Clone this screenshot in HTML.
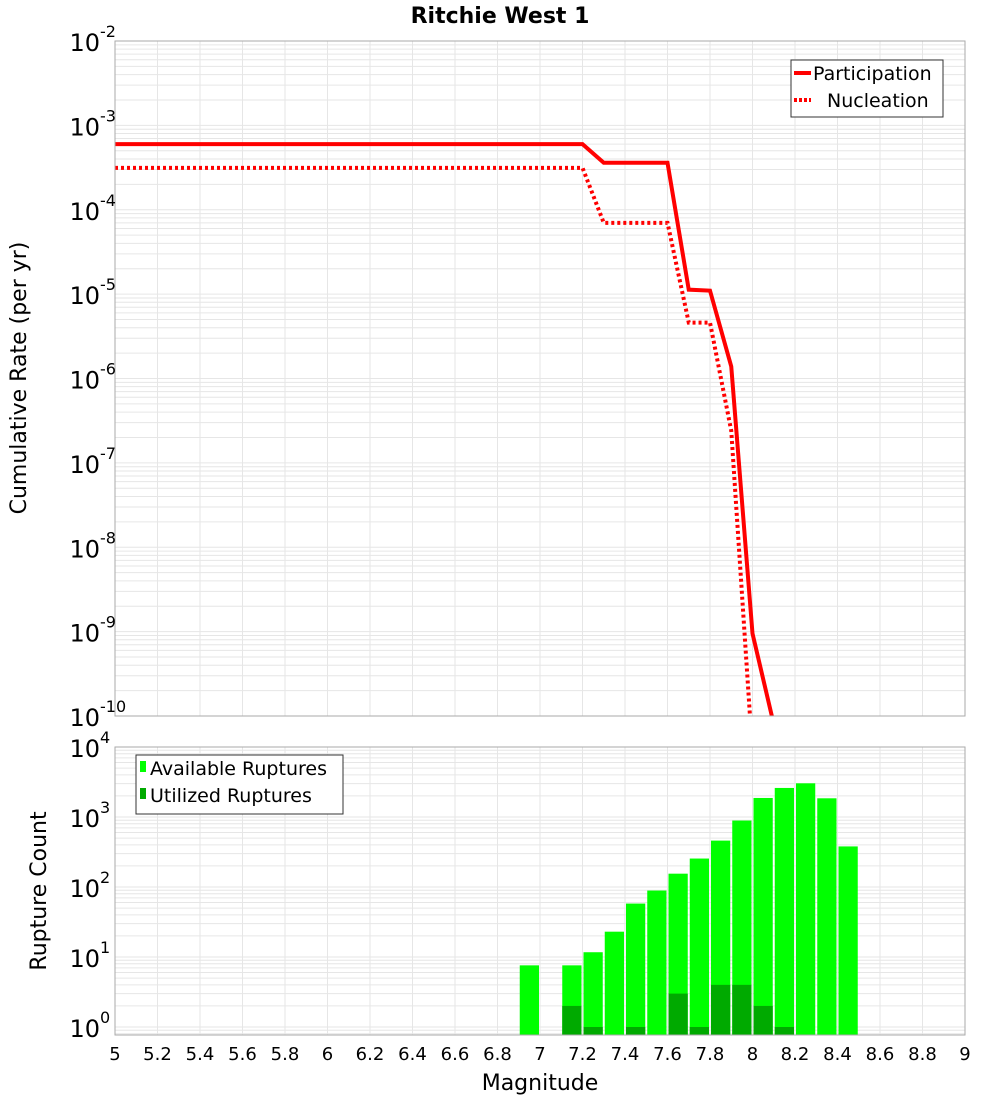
<!DOCTYPE html>
<html><head><meta charset="utf-8"><style>
html,body{margin:0;padding:0;background:#fff;}
svg{display:block;font-family:"DejaVu Sans","Liberation Sans",sans-serif;}
</style></head><body>
<svg id="chart" width="1000" height="1100" viewBox="0 0 1000 1100" xmlns="http://www.w3.org/2000/svg">
<text x="500" y="23" text-anchor="middle" font-size="22" font-weight="bold">Ritchie West 1</text>
<g id="topG"></g>
<g id="botG"></g>
<text transform="translate(26,378) rotate(-90)" text-anchor="middle" font-size="22">Cumulative Rate (per yr)</text>
<text transform="translate(46,891) rotate(-90)" text-anchor="middle" font-size="22">Rupture Count</text>
<text x="540" y="1090" text-anchor="middle" font-size="22">Magnitude</text>
</svg>
<script>
// ---- data ----
const partMag = [5.0, 7.2, 7.3, 7.6, 7.7, 7.8, 7.9, 8.0, 8.1];
const partRate = [6.0e-4, 6.0e-4, 3.6e-4, 3.6e-4, 1.13e-5, 1.1e-5, 1.39e-6, 9.5e-10, 8e-11];
const nuclMag = [5.0, 7.2, 7.3, 7.6, 7.7, 7.8, 7.9, 8.0];
const nuclRate = [3.14e-4, 3.14e-4, 7.0e-5, 7.0e-5, 4.6e-6, 4.6e-6, 2.4e-7, 3.5e-11];
const binMag = [6.95, 7.15, 7.25, 7.35, 7.45, 7.55, 7.65, 7.75, 7.85, 7.95, 8.05, 8.15, 8.25, 8.35, 8.45];
const availCount = [7.6, 7.6, 11.7, 23, 58, 89, 155, 255, 460, 890, 1870, 2600, 3030, 1850, 380];
const usedCount = [0, 2, 1, 0, 1, 0, 3, 1, 4, 4, 2, 1, 0, 0, 0];
const xTicks = ["5","5.2","5.4","5.6","5.8","6","6.2","6.4","6.6","6.8","7","7.2","7.4","7.6","7.8","8","8.2","8.4","8.6","8.8","9"];
const topExps = [-2,-3,-4,-5,-6,-7,-8,-9,-10];
const botExps = [4,3,2,1,0];

const NS = "http://www.w3.org/2000/svg";
const L = 115, R = 965;
const xS = m => L + (m - 5) / 4 * (R - L);
const T1 = 41, B1 = 716;
const yTop = v => T1 + (-2 - Math.log10(v)) / 8 * (B1 - T1);
const T2 = 747, B2 = 1035, Y0 = 1027;
const yBot = v => Y0 - Math.log10(v) * (Y0 - T2) / 4;

function mk(parent, tag, attrs) {
  const e = document.createElementNS(NS, tag);
  for (const k in attrs) e.setAttribute(k, attrs[k]);
  parent.appendChild(e);
  return e;
}
const topG = document.getElementById('topG'), botG = document.getElementById('botG');

function grid(g, t, b, yf, loE, hiE) {
  for (let e = loE; e < hiE; e++) for (let k = 1; k < 10; k++) {
    const y = yf(k * Math.pow(10, e));
    if (y < t || y > b) continue;
    const ln = mk(g, 'line', {x1: L, x2: R, y1: y, y2: y, stroke: '#e6e6e6', 'stroke-width': 1});
    
    
  }
  for (let i = 0; i < xTicks.length; i++) {
    const x = xS(parseFloat(xTicks[i]));
    const ln = mk(g, 'line', {x1: x, x2: x, y1: t, y2: b, stroke: '#e6e6e6', 'stroke-width': 1});
    
    
  }
}
grid(topG, T1, B1, yTop, -11, -2);
grid(botG, T2, B2, yBot, -1, 4);

const clip = mk(document.getElementById('chart'), 'clipPath', {id: 'c1'});
mk(clip, 'rect', {x: L, y: T1, width: R - L, height: B1 - T1});
function line(mags, rates, dash, name) {
  const p = mags.map((m, i) => xS(m) + ',' + yTop(rates[i])).join(' ');
  const pl = mk(topG, 'polyline', {points: p, fill: 'none', stroke: '#ff0000', 'stroke-width': 4, 'clip-path': 'url(#c1)'});
  if (dash) pl.setAttribute('stroke-dasharray', '3,3');
  
  
}
line(nuclMag, nuclRate, true, 'nucleation-line');
line(partMag, partRate, false, 'participation-line');

const bw = xS(5.1) - xS(5) - 2;
for (let i = 0; i < binMag.length; i++) {
  const x = xS(binMag[i]) - bw / 2;
  if (availCount[i] > 0) {
    const y = yBot(availCount[i]);
    const r = mk(botG, 'rect', {x: x, y: y, width: bw, height: B2 - y, fill: '#00ff00'});
    
    
  }
  if (usedCount[i] > 0) {
    const y = yBot(usedCount[i]);
    const r = mk(botG, 'rect', {x: x, y: y, width: bw, height: B2 - y, fill: '#00aa00'});
    
    
  }
}

const f1 = mk(topG, 'rect', {x: L, y: T1, width: R - L, height: B1 - T1, fill: 'none', stroke: '#aaaaaa', 'stroke-width': 1});


const f2 = mk(botG, 'rect', {x: L, y: T2, width: R - L, height: B2 - T2, fill: 'none', stroke: '#aaaaaa', 'stroke-width': 1});



function ylab(g, y, exp, name) {
  const t = mk(g, 'text', {x: 100, y: y + 10, 'text-anchor': 'end', 'font-size': 24});
  t.textContent = '10';
  
  
  const s = mk(g, 'text', {x: 100, y: y - 4, 'font-size': 16});
  s.textContent = String(exp);
  
  
}
topExps.forEach(e => ylab(topG, yTop(Math.pow(10, e)), e, 'y-tick-label-top'));
botExps.forEach(e => ylab(botG, yBot(Math.pow(10, e)), e, 'y-tick-label-bottom'));

xTicks.forEach(s => {
  const t = mk(botG, 'text', {x: xS(parseFloat(s)), y: 1060, 'text-anchor': 'middle', 'font-size': 18});
  t.textContent = s;
  
  
});

function legend(g, x, y, w, h, items, name) {
  const grp = mk(g, 'g', {});
  
  
  mk(grp, 'rect', {x: x, y: y, width: w, height: h, fill: '#fff', stroke: '#333', 'stroke-width': 1});
  items.forEach((it, i) => {
    const cy = y + 14 + i * 27;
    const e = mk(grp, 'g', {});
    
    
    if (it.type === 'line') {
      const ln = mk(e, 'line', {x1: x + 3, x2: x + 20, y1: cy - 1, y2: cy - 1, stroke: '#ff0000', 'stroke-width': 4});
      if (it.dash) ln.setAttribute('stroke-dasharray', '3,2');
    } else {
      mk(e, 'rect', {x: x + 4, y: cy - 8, width: 6, height: 11, fill: it.color});
    }
    const t = mk(e, 'text', {x: x + it.tx, y: cy + 6, 'font-size': 19});
    t.textContent = it.label;
  });
}
legend(topG, 791, 60, 152, 57, [
  {type: 'line', label: 'Participation', tx: 22},
  {type: 'line', dash: true, label: 'Nucleation', tx: 36}
], 'legend-top');
legend(botG, 136, 755, 207, 59, [
  {type: 'rect', color: '#00ff00', label: 'Available Ruptures', tx: 14},
  {type: 'rect', color: '#00aa00', label: 'Utilized Ruptures', tx: 14}
], 'legend-bottom');
</script>
</body></html>
